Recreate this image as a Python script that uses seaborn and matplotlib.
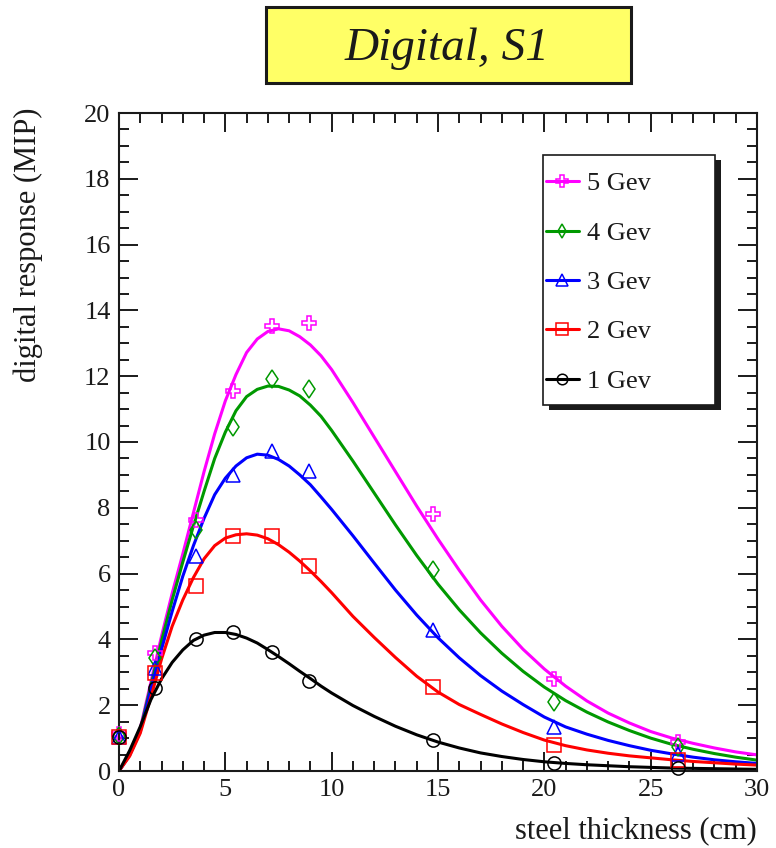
import matplotlib
matplotlib.use("Agg")
import matplotlib.pyplot as plt
from matplotlib.lines import Line2D
from matplotlib.patches import Rectangle
from matplotlib.ticker import MultipleLocator
import pandas as pd
import seaborn as sns

# Measured digital response (MIP) vs. steel thickness for each beam energy
thickness_cm = [0.0, 1.7, 3.6, 5.35, 7.2, 8.95, 14.75, 20.45, 26.3]
resp_1gev = [1.04, 2.52, 4.01, 4.21, 3.61, 2.75, 0.94, 0.25, 0.08]
resp_2gev = [1.04, 2.99, 5.61, 7.13, 7.15, 6.22, 2.55, 0.79, 0.33]
resp_3gev = [1.02, 3.12, 6.54, 9.00, 9.72, 9.11, 4.29, 1.35, 0.52]
resp_4gev = [1.05, 3.43, 7.33, 10.46, 11.92, 11.61, 6.11, 2.11, 0.72]
resp_5gev = [1.12, 3.58, 7.64, 11.54, 13.54, 13.62, 7.82, 2.79, 0.89]

# Fitted shower-profile curves, sampled along the thickness axis
fit_x = [0.0, 0.5, 1.0, 1.5, 2.0, 2.5, 3.0, 3.5, 4.0, 4.5, 5.0, 5.5, 6.0, 6.5,
         7.0, 7.5, 8.0, 8.5, 9.0, 9.5, 10.0, 11.0, 12.0, 13.0, 14.0, 15.0, 16.0,
         17.0, 18.0, 19.0, 20.0, 21.0, 22.0, 23.0, 24.0, 25.0, 26.0, 27.0, 28.0,
         29.0, 30.0]
fit_1gev = [0, 0.62, 1.35, 2.17, 2.8, 3.3, 3.68, 3.97, 4.13, 4.21, 4.21, 4.15, 4.04,
            3.89, 3.69, 3.48, 3.26, 3.03, 2.81, 2.58, 2.37, 1.99, 1.66, 1.36, 1.1,
            0.88, 0.7, 0.55, 0.44, 0.35, 0.28, 0.23, 0.19, 0.16, 0.13, 0.11, 0.09,
            0.08, 0.07, 0.06, 0.05]
fit_2gev = [0, 0.45, 1.15, 2.25, 3.4, 4.4, 5.2, 5.88, 6.45, 6.85, 7.08, 7.18, 7.21,
            7.17, 7.06, 6.88, 6.65, 6.38, 6.08, 5.76, 5.42, 4.7, 4.06, 3.45, 2.88,
            2.4, 2.02, 1.72, 1.43, 1.17, 0.94, 0.77, 0.64, 0.54, 0.46, 0.4, 0.34,
            0.29, 0.25, 0.21, 0.18]
fit_3gev = [0, 0.48, 1.2, 2.5, 3.7, 4.85, 5.92, 6.85, 7.68, 8.4, 8.9, 9.27, 9.52,
            9.63, 9.6, 9.47, 9.27, 9.0, 8.7, 8.33, 7.95, 7.15, 6.32, 5.5, 4.74,
            4.05, 3.44, 2.9, 2.43, 2.02, 1.64, 1.34, 1.12, 0.93, 0.77, 0.63, 0.52,
            0.42, 0.34, 0.28, 0.23]
fit_4gev = [0, 0.5, 1.25, 2.6, 3.95, 5.2, 6.35, 7.45, 8.5, 9.5, 10.3, 10.95, 11.38,
            11.6, 11.7, 11.69, 11.58, 11.4, 11.12, 10.78, 10.35, 9.42, 8.45, 7.48,
            6.55, 5.68, 4.9, 4.2, 3.58, 3.03, 2.55, 2.14, 1.79, 1.49, 1.23, 1.0,
            0.81, 0.66, 0.53, 0.42, 0.33]
fit_5gev = [0, 0.5, 1.3, 2.7, 4.1, 5.4, 6.6, 7.85, 9.1, 10.25, 11.25, 12.05, 12.72,
            13.13, 13.36, 13.44, 13.38, 13.2, 12.95, 12.62, 12.2, 11.2, 10.15, 9.1,
            8.05, 7.05, 6.1, 5.2, 4.4, 3.7, 3.1, 2.58, 2.13, 1.76, 1.46, 1.2, 1.0,
            0.84, 0.7, 0.58, 0.49]

energies = ["5 Gev", "4 Gev", "3 Gev", "2 Gev", "1 Gev"]
points = {"5 Gev": resp_5gev, "4 Gev": resp_4gev, "3 Gev": resp_3gev,
          "2 Gev": resp_2gev, "1 Gev": resp_1gev}
fits = {"5 Gev": fit_5gev, "4 Gev": fit_4gev, "3 Gev": fit_3gev,
        "2 Gev": fit_2gev, "1 Gev": fit_1gev}
colors = {"5 Gev": "#ff00ff", "4 Gev": "#009900", "3 Gev": "#0000ff",
          "2 Gev": "#ff0000", "1 Gev": "#000000"}
markers = {"5 Gev": "P", "4 Gev": "d", "3 Gev": "^", "2 Gev": "s", "1 Gev": "o"}
msizes = {"5 Gev": 10, "4 Gev": 9.5, "3 Gev": 10, "2 Gev": 10, "1 Gev": 9.5}

curves = pd.DataFrame([
    {"energy": e, "x": x, "y": y}
    for e in energies for x, y in zip(fit_x, fits[e])
])

sns.set_theme(style="ticks")
plt.rcParams["font.family"] = ["Liberation Serif", "DejaVu Serif"]

W, H = 776, 848
fig = plt.figure(figsize=(W / 100, H / 100), dpi=100)
ax = fig.add_axes([119 / W, 1 - 771 / H, 638 / W, 658 / H])

sns.lineplot(data=curves, x="x", y="y", hue="energy", hue_order=energies,
             palette=colors, estimator=None, sort=False, legend=False,
             linewidth=2.2, ax=ax)
for line in ax.get_lines():
    line.set_solid_joinstyle("round")

for e in energies:
    ax.plot(thickness_cm, points[e], linestyle="none", marker=markers[e],
            markersize=msizes[e], markerfacecolor="none",
            markeredgecolor=colors[e], markeredgewidth=1.1, clip_on=False, zorder=4)

ax.set_xlim(0, 30)
ax.set_ylim(0, 20)
ax.xaxis.set_major_locator(MultipleLocator(5))
ax.xaxis.set_minor_locator(MultipleLocator(1))
ax.yaxis.set_major_locator(MultipleLocator(2))
ax.yaxis.set_minor_locator(MultipleLocator(0.5))
ax.tick_params(which="both", direction="in", top=True, right=True,
               width=1.4, color="k", labelsize=19, pad=6, labelcolor="k")
ax.tick_params(which="major", length=14)
ax.tick_params(which="minor", length=7)
for s in ax.spines.values():
    s.set_linewidth(1.5)
    s.set_color("k")

ax.set_xlabel("steel thickness (cm)", fontsize=22, loc="right", color="k")
ax.xaxis.set_label_coords(1.0, -0.068)
ax.set_ylabel("digital response (MIP)", fontsize=22, loc="top", color="k")
ax.yaxis.set_label_coords(-0.119, 1.008)

# Title box
fig.add_artist(Rectangle((266 / W, 1 - 83 / H), 365 / W, 76 / H,
                         transform=fig.transFigure, facecolor="#ffff66",
                         edgecolor="k", linewidth=2.2, zorder=2))
fig.text(447 / W, 1 - 49 / H, "Digital, S1", ha="center", va="center",
         fontsize=34, style="italic", color="k", zorder=3)

# Legend box with drop shadow
fig.add_artist(Rectangle((549 / W, 1 - 410 / H), 172 / W, 250 / H,
                         transform=fig.transFigure, facecolor="k",
                         edgecolor="k", linewidth=0, zorder=2))
fig.add_artist(Rectangle((543 / W, 1 - 405 / H), 172 / W, 250 / H,
                         transform=fig.transFigure, facecolor="white",
                         edgecolor="k", linewidth=1.2, zorder=3))
handles = [Line2D([], [], color=colors[e], linewidth=2.2, marker=markers[e],
                  markersize=msizes[e] * 0.8, markerfacecolor="none",
                  markeredgecolor=colors[e], markeredgewidth=1.1)
           for e in energies]
leg = fig.legend(handles, energies, loc="upper left",
                 bbox_to_anchor=(546 / W, 1 - 172 / H), frameon=False,
                 fontsize=19, handlelength=1.25, handletextpad=0.3,
                 borderpad=0, borderaxespad=0, labelspacing=0.98)
leg.set_zorder(4)
for t in leg.get_texts():
    t.set_color("k")

fig.savefig("out.png", dpi=100, facecolor="white")
